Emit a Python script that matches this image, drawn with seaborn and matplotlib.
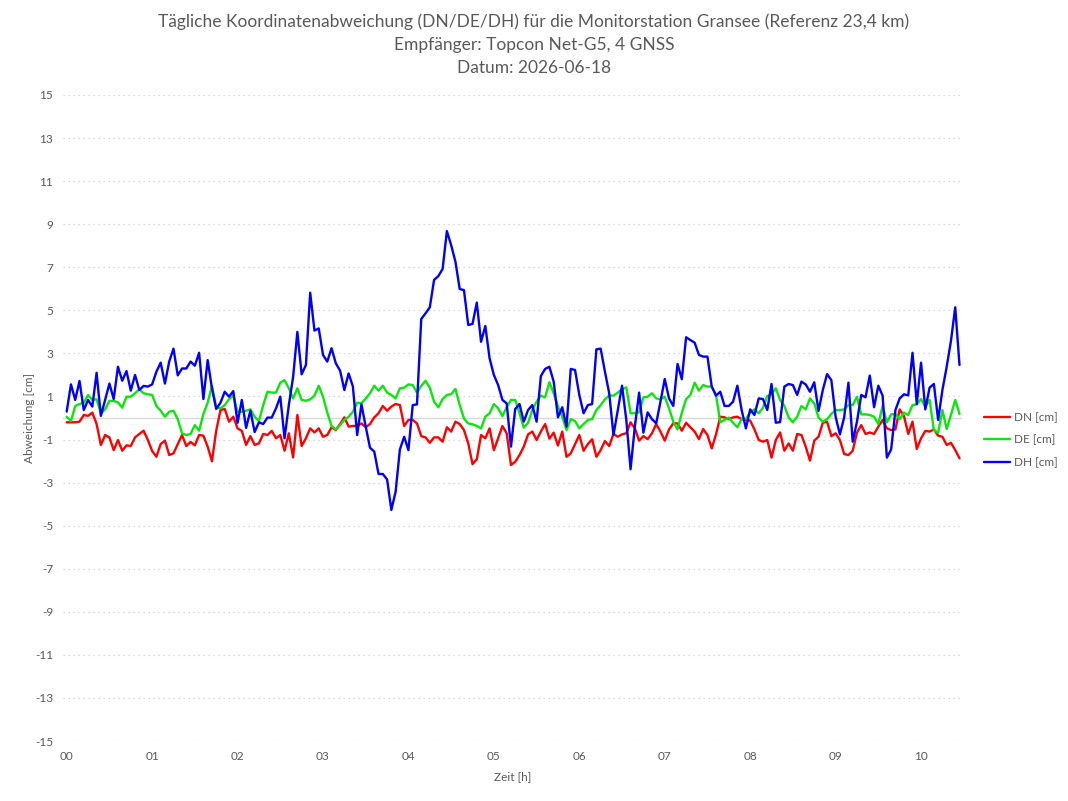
import numpy as np
import pandas as pd
import seaborn as sns
import matplotlib.pyplot as plt

# Messwerte (alle 3 Minuten) in cm
dn = [-0.2, -0.2, -0.2, -0.17, 0.14, 0.1, 0.25, -0.28, -1.25, -0.79,
      -0.9, -1.49, -1.02, -1.52, -1.27, -1.3, -0.9, -0.74, -0.59, -1.02,
      -1.53, -1.8, -1.21, -1.05, -1.72, -1.64, -1.21, -0.79, -1.3, -1.11,
      -1.27, -0.79, -0.82, -1.33, -2.01, -0.59, 0.37, 0.42, -0.17, 0.06,
      -0.48, -0.6, -1.25, -0.84, -1.25, -1.18, -0.74, -0.79, -0.6, -0.94,
      -0.79, -1.52, -0.71, -1.83, 0.14, -1.3, -0.94, -0.48, -0.67, -0.48,
      -0.87, -0.79, -0.43, -0.56, -0.28, 0.03, -0.4, -0.37, -0.36, -0.25,
      -0.43, -0.28, 0.03, 0.22, 0.56, 0.34, 0.53, 0.65, 0.6, -0.37,
      -0.09, -0.09, -0.25, -0.84, -0.9, -1.15, -0.9, -0.9, -1.1, -0.43,
      -0.63, -0.17, -0.28, -0.56, -1.18, -2.14, -1.92, -0.79, -0.94, -0.48,
      -1.49, -0.94, -0.37, -0.71, -2.18, -2.03, -1.72, -1.33, -0.76, -0.63,
      -1.02, -0.63, -0.28, -0.96, -0.68, -1.28, -0.63, -1.8, -1.64, -1.21,
      -0.79, -1.52, -1.21, -0.99, -1.8, -1.49, -1.07, -1.3, -0.74, -0.87,
      -0.76, -0.71, -0.2, -0.48, -1.05, -0.84, -0.98, -0.71, -0.28, -0.63,
      -1.05, -0.53, -0.25, -0.25, -0.59, -0.22, -0.43, -0.63, -0.98, -0.51,
      -0.79, -1.41, -0.76, 0.06, 0.03, -0.06, 0.03, 0.06, -0.05, -0.09,
      -0.12, -0.53, -1.02, -1.1, -1.02, -1.84, -1.02, -0.67, -1.52, -1.18,
      -1.52, -0.74, -0.79, -1.33, -1.98, -1.05, -0.87, -0.22, -0.17, -0.84,
      -0.71, -1.02, -1.67, -1.72, -1.52, -0.68, -0.33, -0.74, -0.67, -0.74,
      -0.4, -0.09, -0.48, -0.56, -0.53, 0.4, 0.09, -0.74, -0.17, -1.44,
      -0.94, -0.6, -0.63, -0.53, -0.82, -0.87, -1.25, -1.15, -1.49, -1.87]

de = [0.06, -0.14, 0.56, 0.65, 0.71, 1.07, 0.84, 0.87, 0.22, 0.4,
      0.8, 0.79, 0.73, 0.48, 0.99, 0.99, 1.15, 1.33, 1.15, 1.1,
      1.07, 0.56, 0.34, 0.06, 0.29, 0.34, -0.06, -0.71, -0.79, -0.74,
      -0.33, -0.59, 0.19, 0.71, 1.49, 0.5, 0.45, 0.6, 0.87, 1.04,
      0.29, 0.29, 0.34, 0.4, 0.06, -0.14, 0.6, 1.22, 1.18, 1.18,
      1.64, 1.76, 1.38, 0.91, 1.38, 0.84, 0.8, 0.87, 1.04, 1.5,
      0.99, 0.25, -0.37, -0.53, -0.33, -0.09, 0.06, 0.29, 0.71, 0.68,
      0.91, 1.15, 1.5, 1.27, 1.5, 1.18, 1.07, 0.91, 1.38, 1.41,
      1.56, 1.53, 1.18, 1.49, 1.73, 1.41, 0.76, 0.5, 0.88, 1.07,
      1.11, 1.35, 0.6, -0.02, -0.25, -0.29, -0.37, -0.48, 0.06, 0.22,
      0.65, 0.45, 0.09, 0.5, 0.84, 0.84, 0.22, -0.45, -0.22, 0.37,
      0.76, 1.04, 0.96, 1.66, 1.15, 0.53, 0.06, -0.56, -0.05, -0.14,
      -0.48, -0.28, -0.09, -0.05, 0.37, 0.6, 0.87, 1.04, 1.04, 1.18,
      1.33, 1.42, 0.22, 0.22, 0.26, 0.96, 0.99, 1.15, 0.91, 0.87,
      0.99, 0.45, -0.17, -0.53, 0.25, 0.88, 1.07, 1.64, 1.27, 1.53,
      1.46, 1.46, 1.07, -0.2, -0.09, 0.02, -0.22, -0.43, -0.05, -0.05,
      0.26, 0.4, 0.22, 0.48, 1.02, 1.11, 1.38, 0.84, 0.56, 0.03,
      -0.2, 0.06, 0.56, 0.4, 0.91, 0.68, 0.02, -0.17, -0.06, 0.19,
      0.37, 0.37, 0.4, 0.6, 0.6, 0.99, 0.17, 0.17, 0.14, 0.06,
      -0.28, 0.56, -0.2, 0.17, 0.19, -0.06, 0.25, 0.14, 0.6, 0.63,
      0.88, 0.53, 0.84, -0.56, -0.68, 0.37, -0.51, 0.14, 0.84, 0.19]

dh = [0.3, 1.56, 0.84, 1.72, 0.37, 0.84, 0.53, 2.1, 0.1, 0.84,
      1.6, 0.88, 2.38, 1.73, 2.18, 1.27, 2.0, 1.3, 1.49, 1.46,
      1.56, 2.15, 2.57, 1.6, 2.62, 3.22, 1.98, 2.3, 2.3, 2.62,
      2.43, 3.03, 0.88, 2.69, 1.38, 0.42, 0.71, 1.22, 0.99, 1.25,
      -0.22, 0.84, -0.46, 0.34, -0.65, -0.2, -0.28, 0.02, 0.02, 0.45,
      0.99, -0.94, 0.6, 1.9, 4.0, 2.03, 2.46, 5.82, 4.06, 4.16,
      2.93, 2.62, 3.24, 2.54, 2.2, 1.3, 2.07, 1.46, -0.79, 0.63,
      -0.4, -1.38, -1.56, -2.6, -2.6, -2.85, -4.27, -3.42, -1.46, -0.87,
      -1.49, 0.6, 0.63, 4.6, 4.86, 5.14, 6.41, 6.59, 6.92, 8.68,
      8.03, 7.26, 5.99, 5.94, 4.32, 4.37, 5.36, 3.54, 4.27, 2.77,
      2.0, 1.53, 0.84, 0.68, -1.33, 0.42, 0.65, -0.17, 0.37, 0.6,
      -0.17, 1.95, 2.28, 2.38, 1.69, 0.03, 0.5, -0.4, 2.28, 2.23,
      1.07, 0.22, 0.6, 0.65, 3.19, 3.22, 2.15, 1.15, -0.79, 0.37,
      1.5, -0.09, -2.38, -0.4, 1.18, -0.68, 0.26, -0.05, -0.25, 0.76,
      1.81, 0.91, 0.56, 2.51, 1.8, 3.75, 3.62, 3.5, 2.93, 2.85,
      2.85, 1.46, 1.04, 1.22, 0.56, 0.56, 0.76, 1.5, 0.37, -0.48,
      0.4, 0.14, 0.91, 0.88, 0.37, 1.58, -0.22, -0.19, 1.46, 1.58,
      1.53, 1.07, 1.69, 1.56, 1.22, 1.66, 0.33, 1.3, 2.04, 1.76,
      0.06, -0.76, 0.03, 1.64, -1.1, -0.17, 1.07, 0.96, 1.97, 0.5,
      1.5, 1.04, -1.84, -1.46, 0.37, 0.91, 1.1, 1.05, 3.03, 0.65,
      2.57, 0.4, 1.41, 1.58, -0.09, 1.3, 2.38, 3.58, 5.14, 2.46]

reihen = ["DN [cm]", "DE [cm]", "DH [cm]"]
farben = ["#ff0000", "#0be60b", "#0000ff"]
intervall_min = 3
y_ticks = list(range(-15, 16, 2))
x_ticks = list(range(0, 11))
x_labels = ["%02d" % h for h in x_ticks]

titel = ("Tägliche Koordinatenabweichung (DN/DE/DH) für die Monitorstation Gransee (Referenz 23,4 km)\n"
         "Empfänger: Topcon Net-G5, 4 GNSS\n"
         "Datum: 2026-06-18")

# %%
zeit = np.arange(len(dh)) * intervall_min / 60
df = pd.DataFrame({"Zeit": zeit, reihen[0]: dn, reihen[1]: de, reihen[2]: dh})
df_long = df.melt(id_vars="Zeit", var_name="Reihe", value_name="Wert")

sns.set_style("white")
plt.rcParams["font.family"] = ["Lato", "DejaVu Sans"]
plt.rcParams["axes.unicode_minus"] = False
grau = "#595959"

fig = plt.figure(figsize=(10.68, 8.01), dpi=100)
ax = fig.add_axes([0.059, 0.0749, 0.8418, 0.8065])

sns.lineplot(data=df_long, x="Zeit", y="Wert", hue="Reihe", hue_order=reihen,
             palette=farben, linewidth=1.7, ax=ax, zorder=3)

ax.axhline(0, color="#d9d9d9", linewidth=1.0, zorder=1)
ax.set_ylim(-15, 15)
ax.set_yticks(y_ticks)
ax.set_xlim(-0.043, 10.48)
ax.set_xticks(x_ticks)
ax.set_xticklabels(x_labels)
ax.yaxis.grid(True, linestyle=(0, (1, 3)), color="#d0d0d0", linewidth=0.9)
ax.xaxis.grid(False)
for s in ax.spines.values():
    s.set_visible(False)
ax.tick_params(length=0, labelsize=8.5, colors=grau)
ax.tick_params(axis="y", pad=7)
ax.tick_params(axis="x", pad=7)

ax.set_xlabel("Zeit [h]", fontsize=8.5, color=grau)
ax.set_ylabel("Abweichung [cm]", fontsize=8.5, color=grau)
ax.xaxis.set_label_coords(0.5, -0.047)
ax.yaxis.set_label_coords(-0.031, 0.5)

handles, labels = ax.get_legend_handles_labels()
ax.legend(handles, labels, loc="center left", bbox_to_anchor=(0.921, 0.4507),
          bbox_transform=fig.transFigure, frameon=False, fontsize=8.5,
          labelcolor=grau, handlelength=2.2, handletextpad=0.4,
          labelspacing=0.95, borderaxespad=0, borderpad=0)

fig.text(0.5, 1 - 13 / 801, titel, ha="center", va="top", fontsize=12.5,
         color=grau, linespacing=1.55)

fig.savefig("out.png", dpi=100)
